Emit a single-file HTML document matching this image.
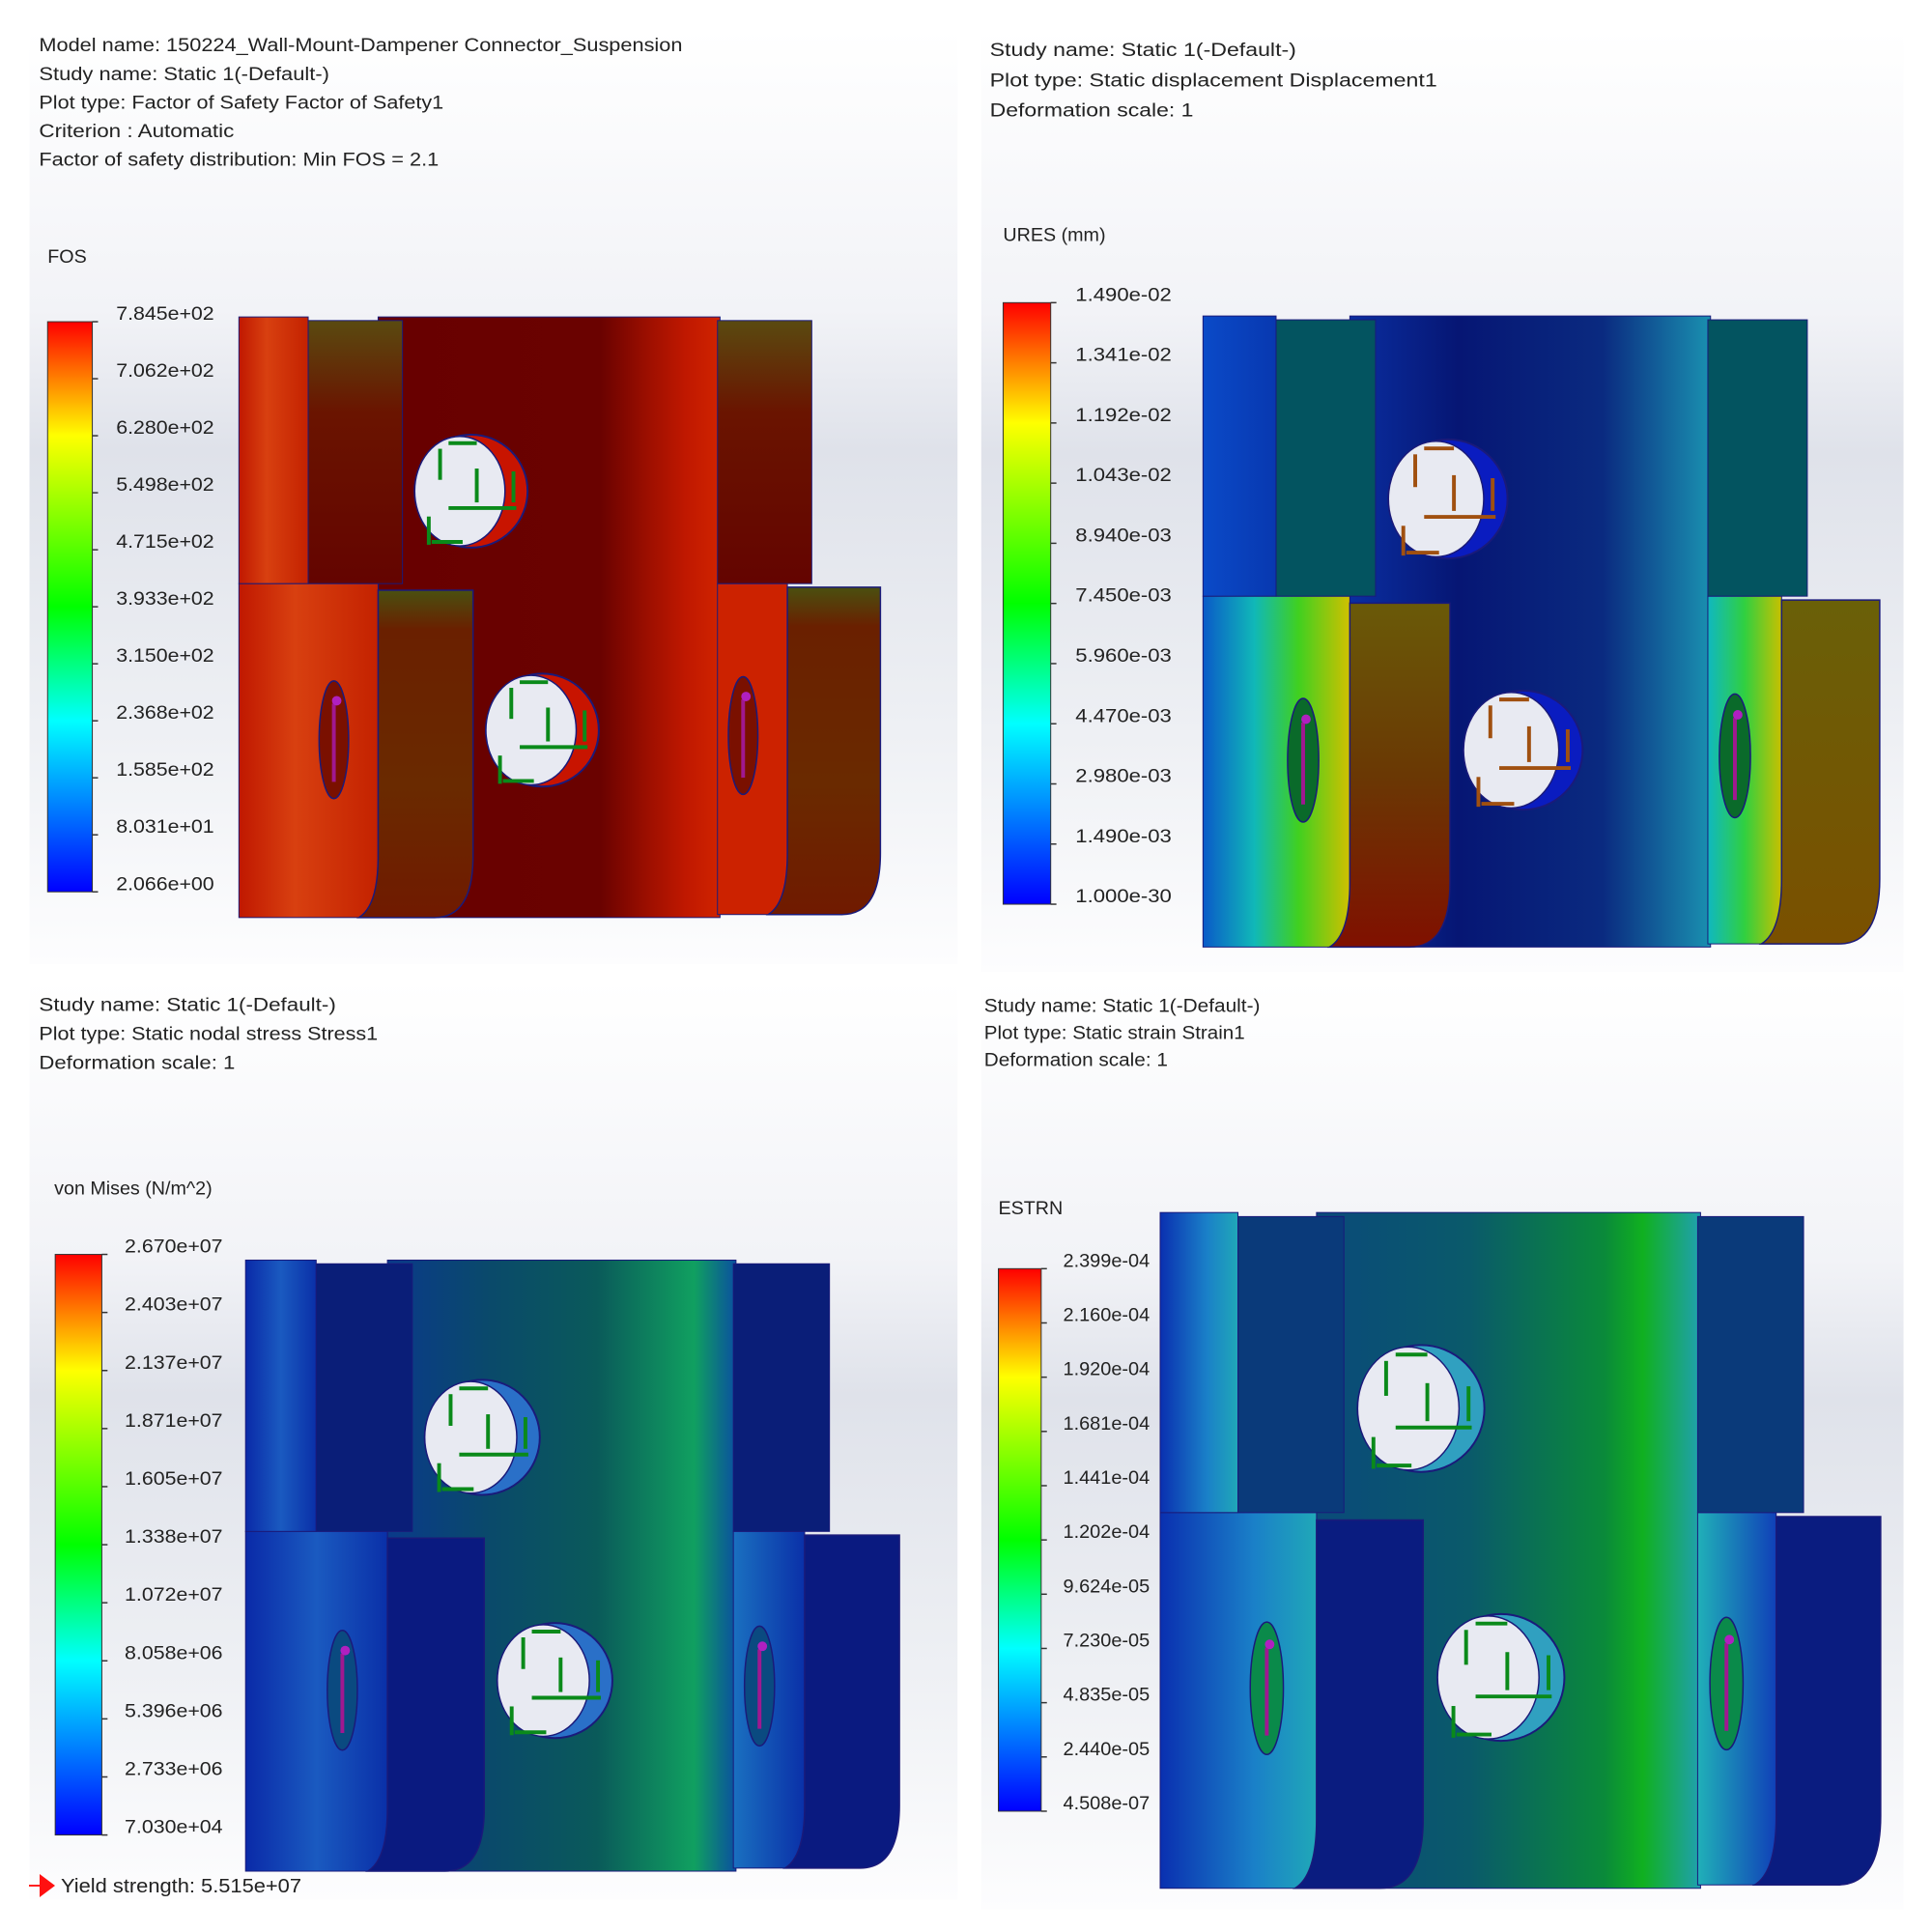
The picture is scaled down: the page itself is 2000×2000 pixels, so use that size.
<!DOCTYPE html>
<html><head><meta charset="utf-8"><style>
html,body{margin:0;padding:0;background:#fff;}
svg{display:block;font-family:"Liberation Sans",sans-serif;}
</style></head><body>
<svg id="root" width="2000" height="2000" viewBox="0 0 2000 2000" xmlns="http://www.w3.org/2000/svg">
<defs>
<linearGradient id="bg" x1="0" y1="0" x2="0" y2="1">
<stop offset="0" stop-color="#ffffff"/><stop offset="0.3" stop-color="#f2f3f7"/><stop offset="0.45" stop-color="#dfe2ea"/><stop offset="0.75" stop-color="#eef0f4"/><stop offset="1" stop-color="#fdfdfe"/></linearGradient>
<linearGradient id="jet" x1="0" y1="0" x2="0" y2="1">
<stop offset="0" stop-color="#ff0000"/><stop offset="0.1" stop-color="#ff8000"/><stop offset="0.2" stop-color="#ffff00"/><stop offset="0.5" stop-color="#00ff00"/><stop offset="0.7" stop-color="#00ffff"/><stop offset="1" stop-color="#0000ff"/></linearGradient>
<linearGradient id="q1left" x1="0" x2="1"><stop offset="0" stop-color="#c01800"/><stop offset="0.4" stop-color="#d84010"/><stop offset="1" stop-color="#c42200"/></linearGradient>
<linearGradient id="q1blk" x1="0" y1="0" x2="0" y2="1"><stop offset="0" stop-color="#5a4a10"/><stop offset="0.35" stop-color="#6a1400"/><stop offset="1" stop-color="#640400"/></linearGradient>
<linearGradient id="q1mid" x1="0" x2="1"><stop offset="0" stop-color="#680000"/><stop offset="0.65" stop-color="#6a0200"/><stop offset="0.8" stop-color="#a01000"/><stop offset="0.9" stop-color="#c01800"/><stop offset="1" stop-color="#d02400"/></linearGradient>
<linearGradient id="q1front" x1="0" y1="0" x2="0" y2="1"><stop offset="0" stop-color="#4a5010"/><stop offset="0.12" stop-color="#6a2000"/><stop offset="0.6" stop-color="#6a2a00"/><stop offset="1" stop-color="#701a00"/></linearGradient>
<linearGradient id="q2lefttop" x1="0" x2="1"><stop offset="0" stop-color="#0a4ac8"/><stop offset="1" stop-color="#0838b0"/></linearGradient>
<linearGradient id="q2leftbot" x1="0" x2="1"><stop offset="0" stop-color="#0a5ac8"/><stop offset="0.35" stop-color="#10b8b8"/><stop offset="0.65" stop-color="#40d020"/><stop offset="1" stop-color="#d0c000"/></linearGradient>
<linearGradient id="q2mid" x1="0" x2="1"><stop offset="0" stop-color="#0a2ea0"/><stop offset="0.3" stop-color="#061674"/><stop offset="0.7" stop-color="#0a2a80"/><stop offset="1" stop-color="#1a90b0"/></linearGradient>
<linearGradient id="q2right" x1="0" x2="1"><stop offset="0" stop-color="#10b8c0"/><stop offset="0.5" stop-color="#30d040"/><stop offset="1" stop-color="#c8c000"/></linearGradient>
<linearGradient id="q2fl" x1="0" y1="0" x2="0" y2="1"><stop offset="0" stop-color="#6a5a08"/><stop offset="0.5" stop-color="#6a3804"/><stop offset="1" stop-color="#801000"/></linearGradient>
<linearGradient id="q2fr" x1="0" y1="0" x2="0" y2="1"><stop offset="0" stop-color="#6a6008"/><stop offset="1" stop-color="#7a5000"/></linearGradient>
<linearGradient id="q3left" x1="0" x2="1"><stop offset="0" stop-color="#0a2aa8"/><stop offset="0.5" stop-color="#1a5ac0"/><stop offset="1" stop-color="#0a30a8"/></linearGradient>
<linearGradient id="q3mid" x1="0" x2="1"><stop offset="0" stop-color="#0a3a8a"/><stop offset="0.3" stop-color="#0a4a6a"/><stop offset="0.6" stop-color="#0a5a5a"/><stop offset="0.88" stop-color="#10a060"/><stop offset="1" stop-color="#0a50a0"/></linearGradient>
<linearGradient id="q3right" x1="0" x2="1"><stop offset="0" stop-color="#1a70c0"/><stop offset="1" stop-color="#0a30a8"/></linearGradient>
<linearGradient id="q4left" x1="0" x2="1"><stop offset="0" stop-color="#0a30b0"/><stop offset="0.6" stop-color="#1a80c8"/><stop offset="1" stop-color="#20a8b8"/></linearGradient>
<linearGradient id="q4mid" x1="0" x2="1"><stop offset="0" stop-color="#0a4a7a"/><stop offset="0.4" stop-color="#0a5a6a"/><stop offset="0.75" stop-color="#0a8a3a"/><stop offset="0.85" stop-color="#10b020"/><stop offset="1" stop-color="#20a0b0"/></linearGradient>
<linearGradient id="q4right" x1="0" x2="1"><stop offset="0" stop-color="#20b0b8"/><stop offset="1" stop-color="#1040b8"/></linearGradient>
</defs>
<g id="panels"></g>
</svg>
<script>
var NS="http://www.w3.org/2000/svg";
var root=document.getElementById('panels');
function mk(tag,attrs,parent){var e=document.createElementNS(NS,tag);for(var k in attrs)e.setAttribute(k,attrs[k]);(parent||root).appendChild(e);return e;}

var q1Lines=["Model name: 150224_Wall-Mount-Dampener Connector_Suspension","Study name: Static 1(-Default-)","Plot type: Factor of Safety Factor of Safety1","Criterion : Automatic","Factor of safety distribution: Min FOS = 2.1"];
var q2Lines=["Study name: Static 1(-Default-)","Plot type: Static displacement Displacement1","Deformation scale: 1"];
var q3Lines=["Study name: Static 1(-Default-)","Plot type: Static nodal stress Stress1","Deformation scale: 1"];
var q4Lines=["Study name: Static 1(-Default-)","Plot type: Static strain Strain1","Deformation scale: 1"];
var q1Ticks=["7.845e+02","7.062e+02","6.280e+02","5.498e+02","4.715e+02","3.933e+02","3.150e+02","2.368e+02","1.585e+02","8.031e+01","2.066e+00"];
var q2Ticks=["1.490e-02","1.341e-02","1.192e-02","1.043e-02","8.940e-03","7.450e-03","5.960e-03","4.470e-03","2.980e-03","1.490e-03","1.000e-30"];
var q3Ticks=["2.670e+07","2.403e+07","2.137e+07","1.871e+07","1.605e+07","1.338e+07","1.072e+07","8.058e+06","5.396e+06","2.733e+06","7.030e+04"];
var q4Ticks=["2.399e-04","2.160e-04","1.920e-04","1.681e-04","1.441e-04","1.202e-04","9.624e-05","7.230e-05","4.835e-05","2.440e-05","4.508e-07"];

var panels=[
 {name:'fos-panel',ox:0,oy:0,px:31,py:31,pw:975,ph:982,lines:q1Lines,tx:41,ty:47,ls:30,tl:[676,305,425,205,420],
  unit:'FOS',ux:50,uy:269,cb:[50,338,47,599],ticks:q1Ticks,lx:122,ltl:103,
  part:[251,333,674,631],c:{left:'url(#q1left)',leftTop:'url(#q1left)',mid:'url(#q1mid)',blk:'url(#q1blk)',right:'#cc2200',front:'url(#q1front)',frontR:'url(#q1front)',cres:'#c81400',slot:'#7a1000',arrow:'#0a8a1a'}},
 {name:'displacement-panel',ox:1000,oy:0,px:1016,py:31,pw:969,ph:990,lines:q2Lines,tx:1025,ty:52,ls:31.7,tl:[322,470,214],
  unit:'URES (mm)',ux:1039,uy:246,cb:[1039,318,50,632],ticks:q2Ticks,lx:1115,ltl:101,
  part:[1249,332,711,663],c:{left:'url(#q2leftbot)',leftTop:'url(#q2lefttop)',mid:'url(#q2mid)',blk:'#035460',right:'url(#q2right)',front:'url(#q2fl)',frontR:'url(#q2fr)',cres:'#0a1cc0',slot:'#0a6a2a',arrow:'#a05010'}},
 {name:'stress-panel',ox:0,oy:1000,px:31,py:1016,pw:975,ph:965,lines:q3Lines,tx:41,ty:1040,ls:30.5,tl:[312,356,206],
  unit:'von Mises (N/m^2)',ux:57,uy:1233,cb:[58,1303,49,610],ticks:q3Ticks,lx:131,ltl:103,
  part:[258,1309,687,642],c:{left:'url(#q3left)',leftTop:'url(#q3left)',mid:'url(#q3mid)',blk:'#0a1e78',right:'url(#q3right)',front:'#0a1a80',frontR:'#0a1a80',cres:'#2a70c8',slot:'#0a4a80',arrow:'#0a8a1a'}},
 {name:'strain-panel',ox:1000,oy:1000,px:1016,py:1016,pw:969,ph:975,lines:q4Lines,tx:1019,ty:1041,ls:28.5,tl:[290,274,193],
  unit:'ESTRN',ux:1034,uy:1254,cb:[1034,1318,45,570],ticks:q4Ticks,lx:1102,ltl:91,
  part:[1204,1259,757,710],c:{left:'url(#q4left)',leftTop:'url(#q4left)',mid:'url(#q4mid)',blk:'#0a3a7a',right:'url(#q4right)',front:'#0a1c80',frontR:'#0a1c80',cres:'#30a0c0',slot:'#0a8a4a',arrow:'#0a8a1a'}}
];

function drawPart(g,p,c){
 var x0=p[0],y0=p[1],W=p[2],H=p[3];
 function X(f){return x0+f*W;} function Y(f){return y0+f*H;}
 function rect(name,fx0,fy0,fx1,fy1,fill){
  var r=mk('rect',{x:X(fx0),y:Y(fy0),width:X(fx1)-X(fx0),height:Y(fy1)-Y(fy0),fill:fill,stroke:'#1a1a7a','stroke-width':1},g);
  
  
  return r;}
 rect('middle-plate',0.217,0,0.75,1,c.mid);
 rect('left-face-lower',0,0.444,0.217,1,c.left);
 rect('left-face-upper',0,0,0.108,0.444,c.leftTop);
 rect('right-face-lower',0.746,0.444,0.855,0.995,c.right);
 rect('upper-left-block',0.108,0.006,0.255,0.444,c.blk);
 rect('upper-right-block',0.746,0.006,0.893,0.444,c.blk);
 function front(name,fx0,fx1,fy0,fy1,fill){
  var a=X(fx0),b=X(fx1),t=Y(fy0),bt=Y(fy1),r=0.06*W;
  var d='M'+a+','+t+' L'+b+','+t+' L'+b+','+(bt-r*1.6)+' Q'+b+','+bt+' '+(b-r)+','+bt+' L'+(a-0.03*W)+','+bt+' Q'+a+','+(bt-r*0.3)+' '+a+','+(bt-r*1.6)+' Z';
  var e=mk('path',{d:d,fill:fill,stroke:'#1a1a7a','stroke-width':1.5},g);
  
  }
 front('lower-left-tab',0.217,0.365,0.455,1.0,c.front);
 front('lower-right-tab',0.855,1.0,0.45,0.995,c.frontR);
 function hole(name,fx,fy){
  var cx=X(fx),cy=Y(fy),r=0.088*W;
  var hg=mk('g',{},g);
  
  
  mk('circle',{cx:cx,cy:cy,r:r,fill:c.cres,stroke:'#1a1a7a','stroke-width':2},hg);
  mk('ellipse',{cx:cx-0.2*r,cy:cy,rx:0.8*r,ry:0.97*r,fill:'#e8eaf2',stroke:'#1a1a7a','stroke-width':1.5},hg);
  var ar=c.arrow;
  var segs=[[-0.55,-0.75,-0.55,-0.2],[-0.75,0.45,-0.75,0.95],[-0.7,0.9,-0.15,0.9],[-0.4,-0.85,0.1,-0.85],[0.1,0.2,0.1,-0.4],[0.75,0.2,0.75,-0.35],[-0.4,0.3,0.8,0.3]];
  segs.forEach(function(s){mk('line',{x1:cx+s[0]*r,y1:cy+s[1]*r,x2:cx+s[2]*r,y2:cy+s[3]*r,stroke:ar,'stroke-width':4},hg);});
 }
 hole('upper-bolt-hole',0.362,0.29);
 hole('lower-bolt-hole',0.473,0.688);
 function slot(name,fx,fy){
  var sg=mk('g',{},g);
  
  
  mk('ellipse',{cx:X(fx),cy:Y(fy),rx:0.023*W,ry:0.098*H,fill:c.slot,stroke:'#1a1a7a','stroke-width':1.5},sg);
  mk('line',{x1:X(fx),y1:Y(fy)-0.06*H,x2:X(fx),y2:Y(fy)+0.07*H,stroke:'#a01890','stroke-width':4},sg);
  mk('circle',{cx:X(fx)+3,cy:Y(fy)-0.065*H,r:5,fill:'#b020c0'},sg);}
 slot('left-slot',0.148,0.704);
 slot('right-slot',0.786,0.697);
}

var K=0.9853;
var groups=[];
panels.forEach(function(P){
 var g=mk('g',{transform:'translate('+P.ox+','+P.oy+') scale('+K+') translate('+(-P.ox)+','+(-P.oy)+')'});
 
 
 groups.push(g);
 mk('rect',{x:P.px,y:P.py,width:P.pw,height:P.ph,fill:'url(#bg)'},g);
 var tg=mk('g',{},g);
 
 
 P.lines.forEach(function(s,i){
  var t=mk('text',{x:P.tx,y:P.ty+i*P.ls+7,'font-size':20,fill:'#222',textLength:P.tl[i],lengthAdjust:'spacingAndGlyphs'},tg);
  t.textContent=s;
  
  
 });
 var u=mk('text',{x:P.ux,y:P.uy+7,'font-size':20,fill:'#222'},g);
 u.textContent=P.unit;
 
 
 var cb=P.cb;
 var bar=mk('rect',{x:cb[0],y:cb[1],width:cb[2],height:cb[3],fill:'url(#jet)',stroke:'#333','stroke-width':1},g);
 
 
 var n=P.ticks.length;
 function ty(i){return cb[1]+cb[3]*i/(n-1);}
 P.ticks.forEach(function(s,i){
  var y=ty(i);
  mk('line',{x1:cb[0]+cb[2],y1:y,x2:cb[0]+cb[2]+6,y2:y,stroke:'#333','stroke-width':1.5},g);
  var t=mk('text',{x:P.lx,y:y-2,'font-size':20,fill:'#222',textLength:P.ltl,lengthAdjust:'spacingAndGlyphs'},g);
  t.textContent=s;
  
  
 });
 var pg=mk('g',{},g);
 
 
 drawPart(pg,P.part,P.c);
});

var yg=mk('g',{});


mk('line',{x1:30,y1:1952,x2:46,y2:1952,stroke:'#ff2020','stroke-width':2},yg);
mk('polygon',{points:'41,1940 57,1952 41,1964',fill:'#ff1010'},yg);
var yt=mk('text',{x:63,y:1959,'font-size':20,fill:'#222',textLength:249,lengthAdjust:'spacingAndGlyphs'},yg);
yt.textContent='Yield strength: 5.515e+07';
</script>
</body></html>
